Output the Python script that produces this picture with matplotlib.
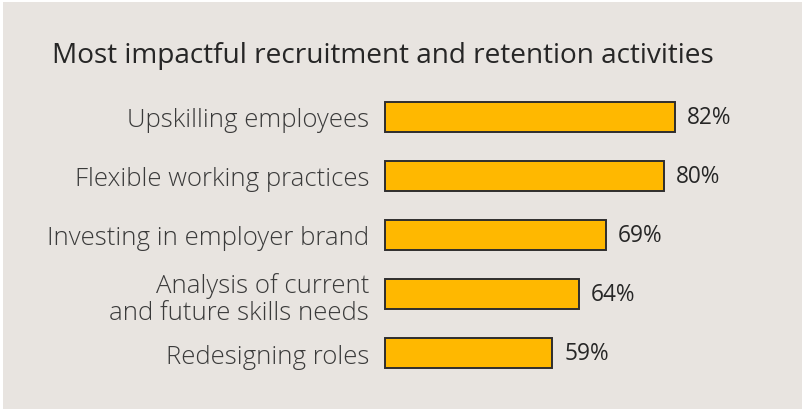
import matplotlib.pyplot as plt
from matplotlib.patches import Rectangle

categories = [
    "Upskilling employees",
    "Flexible working practices",
    "Investing in employer brand",
    "Analysis of current\nand future skills needs",
    "Redesigning roles",
]
values = [82, 80, 69, 64, 59]
value_labels = ["82%", "80%", "69%", "64%", "59%"]
title = "Most impactful recruitment and retention activities"

BG = "#E8E4E0"
BAR = "#FFB800"
EDGE = "#2E2E2E"
FONT = ["Open Sans", "DejaVu Sans"]

W, H = 802, 410
fig = plt.figure(figsize=(W / 100, H / 100), dpi=100, facecolor="white")

# panel background with a thin white margin on the top and left
fig.patches.append(Rectangle((3 / W, 0), 1 - 3 / W, 1 - 3 / H, transform=fig.transFigure,
                             facecolor=BG, edgecolor="none", zorder=-5))

fig.text(52 / W, 1 - 63 / H, title, ha="left", va="baseline", fontsize=20.2,
         family=FONT, fontweight="normal", color="#262626")

base = 27.5  # value at which bars begin
ax = fig.add_axes([383 / W, 1 - 384 / H, (W - 383) / W, (384 - 88) / H])
ax.set_facecolor("none")
ax.set_zorder(2)
ys = list(range(len(values)))
ax.barh(ys, [v - base for v in values], left=base, height=0.51,
        color=BAR, edgecolor=EDGE, linewidth=1.4)
ax.set_xlim(base - 0.3, base + (W - 383) / 5.35)
ax.set_ylim(len(values) - 0.5, -0.5)

for y, v, lab in zip(ys, values, value_labels):
    ax.text(v + 2.2, y, lab, ha="left", va="center", fontsize=16.3,
            family=FONT, fontweight="medium", color="#262626")

ax.set_yticks(ys)
ax.set_yticklabels(categories, fontsize=18.5, family=FONT, fontweight=300,
                   color="#3A3A3A", linespacing=1.12, multialignment="right")
ax.tick_params(axis="y", length=0, pad=10)
ax.set_xticks([])
for s in ax.spines.values():
    s.set_visible(False)

fig.savefig("out.png", dpi=100, facecolor="white")
